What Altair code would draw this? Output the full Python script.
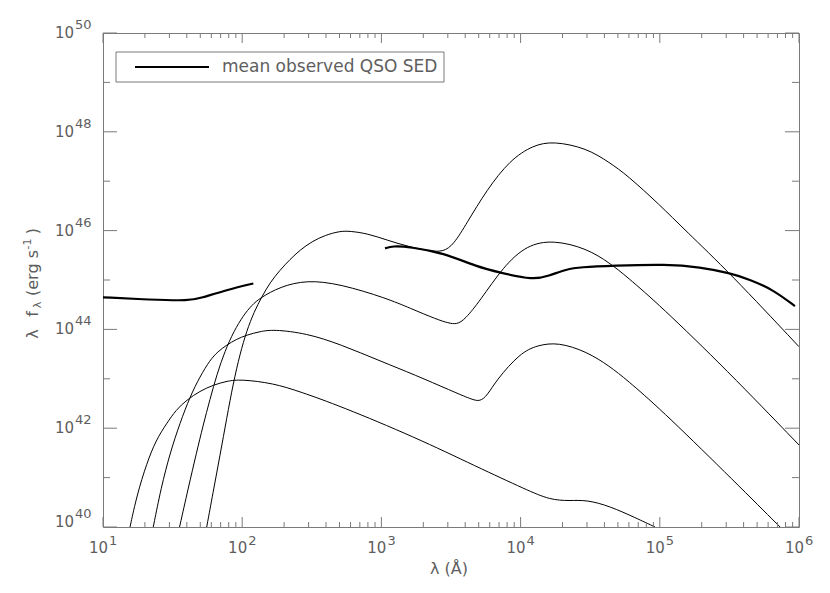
import altair as alt
import pandas as pd

# ---------------- data (log10 of wavelength in Å, log10 of lambda f_lambda in erg/s) -------------
m1_lx = [1.194, 1.244, 1.314, 1.381, 1.458, 1.524, 1.601, 1.697, 1.792, 1.891, 1.989, 2.224, 2.415, 2.703,
         3.24, 3.685, 4.044, 4.211, 4.35, 4.475, 4.642, 4.83, 4.966]
m1_ly = [40.0, 40.648, 41.289, 41.761, 42.099, 42.368, 42.571, 42.753, 42.874, 42.955, 42.99, 42.91, 42.74, 42.45,
         41.82, 41.22, 40.75, 40.55, 40.53, 40.55, 40.42, 40.18, 40.0]

m2_lx = [1.361, 1.417, 1.481, 1.553, 1.625, 1.697, 1.769, 1.826, 1.889, 1.955, 2.032, 2.128, 2.223, 2.463, 2.703,
         3.0, 3.24, 3.5, 3.65, 3.708, 3.76, 3.828, 3.996, 4.12, 4.27, 4.475, 4.642, 4.762, 5.0, 5.48, 5.864]
m2_ly = [40.0, 40.789, 41.492, 42.105, 42.638, 43.047, 43.381, 43.553, 43.684, 43.796, 43.887, 43.957, 44.0, 43.92, 43.70,
         43.35, 43.08, 42.76, 42.58, 42.54, 42.66, 42.98, 43.52, 43.68, 43.74, 43.55, 43.25, 42.98, 42.40, 41.08, 40.0]

m3_lx = [1.550, 1.611, 1.673, 1.718, 1.769, 1.819, 1.876, 1.941, 2.008, 2.070, 2.128, 2.272, 2.463, 2.703, 3.038,
         3.205, 3.4, 3.48, 3.541, 3.6, 3.708, 3.876, 4.044, 4.235, 4.475, 4.642, 4.762, 5.0, 5.48, 6.0]
m3_ly = [40.0, 40.769, 41.518, 42.045, 42.591, 43.097, 43.563, 43.968, 44.281, 44.494, 44.636, 44.864, 45.0, 44.92, 44.63,
         44.43, 44.2, 44.13, 44.10, 44.2, 44.58, 45.27, 45.71, 45.81, 45.64, 45.34, 45.07, 44.49, 43.18, 41.66]

m4_lx = [1.745, 1.790, 1.841, 1.889, 1.936, 1.984, 2.032, 2.085, 2.140, 2.200, 2.272, 2.343, 2.415, 2.501, 2.595,
         2.703, 2.774, 2.9, 3.038, 3.2, 3.35, 3.445, 3.52, 3.613, 3.756, 3.924, 4.091, 4.235, 4.475, 4.642, 4.762,
         5.0, 5.181, 5.504, 6.0]
m4_ly = [40.0, 40.688, 41.457, 42.206, 42.915, 43.502, 43.968, 44.352, 44.656, 44.949, 45.202, 45.415, 45.607, 45.779, 45.907,
         45.99, 45.99, 45.94, 45.81, 45.67, 45.585, 45.57, 45.72, 46.15, 46.82, 47.43, 47.73, 47.81, 47.67, 47.37, 47.13,
         46.52, 46.01, 45.14, 43.65]

# mean observed QSO SED (two segments)
s1_lx = [1.0, 1.338, 1.625, 1.697, 1.889, 2.08]
s1_ly = [44.65, 44.60, 44.58, 44.63, 44.80, 44.93]
s2_lx = [3.026, 3.08, 3.205, 3.445, 3.685, 3.852, 4.091, 4.2, 4.331, 4.427, 4.666, 5.05, 5.289, 5.504, 5.648, 5.815, 5.971]
s2_ly = [45.64, 45.69, 45.67, 45.55, 45.27, 45.15, 45.0, 45.08, 45.22, 45.26, 45.29, 45.32, 45.26, 45.14, 45.01, 44.80, 44.47]

x_exps = [1, 2, 3, 4, 5, 6]
y_major_exps = [40, 42, 44, 46, 48, 50]
y_minor_exps = [41, 43, 45, 47, 49]
legend_label = "mean observed QSO SED"

# ---------------- build tables ----------------
def table(lx, ly, name):
    return pd.DataFrame({"lam": [10.0 ** v for v in lx], "flux": [10.0 ** v for v in ly], "s": name})

models = pd.concat([table(m1_lx, m1_ly, "m1"), table(m2_lx, m2_ly, "m2"),
                    table(m3_lx, m3_ly, "m3"), table(m4_lx, m4_ly, "m4")])
sed = pd.concat([table(s1_lx, s1_ly, "s1"), table(s2_lx, s2_ly, "s2")])

xmaj = pd.DataFrame({"v": [10.0 ** e for e in x_exps], "e": [str(e) for e in x_exps]})
xmin = pd.DataFrame({"v": [m * 10.0 ** e for e in x_exps[:-1] for m in range(2, 10)]})
ymaj = pd.DataFrame({"v": [10.0 ** e for e in y_major_exps], "e": [str(e) for e in y_major_exps]})
ymin = pd.DataFrame({"v": [10.0 ** e for e in y_minor_exps]})

W, H = 696, 494
AX = "#7a7a7a"
TX = "#5e5e5e"
F = "DejaVu Sans"

xs = alt.Scale(type="log", domain=[10, 1e6], nice=False)
ys = alt.Scale(type="log", domain=[1e40, 1e50], nice=False)
X = lambda f="v": alt.X(f"{f}:Q", scale=xs, axis=None)
Y = lambda f="v": alt.Y(f"{f}:Q", scale=ys, axis=None)

layers = []

# legend box
one = pd.DataFrame({"a": [0]})
layers.append(alt.Chart(one).mark_rect(fill="white", stroke=AX, strokeWidth=1).encode(
    x=alt.value(13), x2=alt.value(341), y=alt.value(19), y2=alt.value(49)))
layers.append(alt.Chart(one).mark_rule(color="black", strokeWidth=2.2).encode(
    x=alt.value(32), x2=alt.value(106), y=alt.value(34)))
layers.append(alt.Chart(one).mark_text(align="left", baseline="middle", font=F, fontSize=17, color=TX).encode(
    x=alt.value(119), y=alt.value(34), text=alt.value(legend_label)))

# curves
layers.append(alt.Chart(models).mark_line(color="black", strokeWidth=1, interpolate="basis", clip=True).encode(
    x=X("lam"), y=Y("flux"), detail="s:N"))
layers.append(alt.Chart(sed).mark_line(color="black", strokeWidth=2.2, interpolate="basis", clip=True).encode(
    x=X("lam"), y=Y("flux"), detail="s:N"))

# ticks (inward, mirrored)
for df, ln in ((xmaj, 10), (xmin, 5)):
    layers.append(alt.Chart(df).mark_rule(color=AX, strokeWidth=1).encode(x=X(), y=alt.value(H), y2=alt.value(H - ln)))
    layers.append(alt.Chart(df).mark_rule(color=AX, strokeWidth=1).encode(x=X(), y=alt.value(0), y2=alt.value(ln)))
for df, ln in ((ymaj, 14), (ymin, 7)):
    layers.append(alt.Chart(df).mark_rule(color=AX, strokeWidth=1).encode(y=Y(), x=alt.value(0), x2=alt.value(ln)))
    layers.append(alt.Chart(df).mark_rule(color=AX, strokeWidth=1).encode(y=Y(), x=alt.value(W), x2=alt.value(W - ln)))

# x tick labels: 10^n
layers.append(alt.Chart(xmaj).mark_text(align="right", baseline="middle", dx=5, font=F, fontSize=15, color=TX).encode(
    x=X(), y=alt.value(H + 21), text=alt.value("10")))
layers.append(alt.Chart(xmaj).mark_text(align="left", baseline="middle", dx=6, font=F, fontSize=13, color=TX).encode(
    x=X(), y=alt.value(H + 14), text="e:N"))

# y tick labels
yhi = ymaj[ymaj.e != "40"]
ylo = ymaj[ymaj.e == "40"]
layers.append(alt.Chart(yhi).mark_text(align="right", baseline="middle", dx=-29, font=F, fontSize=15, color=TX).encode(
    y=Y(), x=alt.value(0), text=alt.value("10")))
layers.append(alt.Chart(yhi).mark_text(align="left", baseline="middle", dx=-28, dy=-8, font=F, fontSize=13, color=TX).encode(
    y=Y(), x=alt.value(0), text="e:N"))
layers.append(alt.Chart(ylo).mark_text(align="right", baseline="middle", dx=-29, dy=-5, font=F, fontSize=15, color=TX).encode(
    y=Y(), x=alt.value(0), text=alt.value("10")))
layers.append(alt.Chart(ylo).mark_text(align="left", baseline="middle", dx=-28, dy=-13, font=F, fontSize=13, color=TX).encode(
    y=Y(), x=alt.value(0), text="e:N"))

# axis titles
layers.append(alt.Chart(one).mark_text(align="center", baseline="middle", font=F, fontSize=16, color=TX).encode(
    x=alt.value(W / 2 - 2), y=alt.value(H + 42), text=alt.value("λ (Å)")))
ytitle = [("λ", 16, -70, 301), ("f", 16, -70, 281), ("λ", 11, -65, 272),
          ("(erg s", 16, -70, 240), ("-1", 11, -75, 211), (")", 16, -70, 198)]
for t, fs, xx, yy in ytitle:
    layers.append(alt.Chart(one).mark_text(align="center", baseline="middle", angle=270, font=F, fontSize=fs, color=TX).encode(
        x=alt.value(xx), y=alt.value(yy), text=alt.value(t)))

chart = alt.layer(*layers).properties(
    width=W, height=H,
    autosize=alt.AutoSizeParams(type="none"),
    padding={"left": 95, "top": 25, "right": 23, "bottom": 58},
).configure_view(stroke=AX, strokeWidth=1)

chart.save("out.html", embed_options={"renderer": "svg", "actions": False})
